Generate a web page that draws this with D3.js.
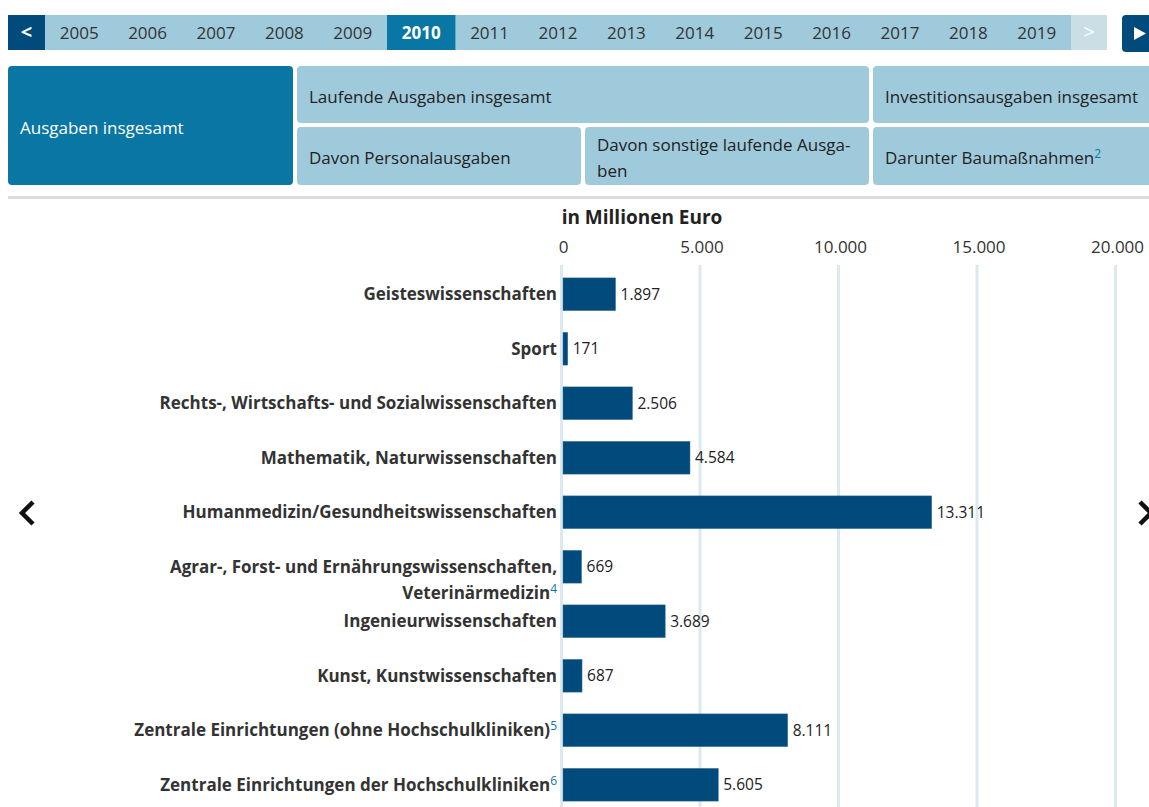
<!DOCTYPE html>
<html>
<head>
<meta charset="utf-8">
<script src="https://cdn.jsdelivr.net/npm/d3@7"></script>
<style>
  body { margin: 0; background: #fff; overflow: hidden; }
  svg { display: block; font-family: "Open Sans", Lato, sans-serif; }
</style>
</head>
<body>
<svg id="chart" width="1149" height="807"></svg>
<script>
// data
var years = ["2005", "2006", "2007", "2008", "2009", "2010", "2011", "2012", "2013", "2014", "2015", "2016", "2017", "2018", "2019"];
var activeYear = "2010";

var categories = [
  ["Geisteswissenschaften"],
  ["Sport"],
  ["Rechts-, Wirtschafts- und Sozialwissenschaften"],
  ["Mathematik, Naturwissenschaften"],
  ["Humanmedizin/Gesundheitswissenschaften"],
  ["Agrar-, Forst- und Ernährungswissenschaften,", "Veterinärmedizin"],
  ["Ingenieurwissenschaften"],
  ["Kunst, Kunstwissenschaften"],
  ["Zentrale Einrichtungen (ohne Hochschulkliniken)"],
  ["Zentrale Einrichtungen der Hochschulkliniken"]
];
var footnotes = ["", "", "", "", "", "4", "", "", "5", "6"];
var values = [1897, 171, 2506, 4584, 13311, 669, 3689, 687, 8111, 5605];
var xTicks = [0, 5000, 10000, 15000, 20000];

var de = d3.formatLocale({ decimal: ",", thousands: ".", grouping: [3], currency: ["", " €"] });
var fmt = de.format(",d");

var dark = "#004b7c", active = "#0a76a4", light = "#9fcadc";
var svg = d3.select("#chart");

// year navigation
var yearBar = svg.append("g");
yearBar.append("rect").attr("x", 8).attr("y", 15).attr("width", 1099).attr("height", 35).attr("fill", light);
yearBar.append("rect").attr("x", 8).attr("y", 15).attr("width", 37).attr("height", 35).attr("fill", dark);
yearBar.append("text").attr("x", 26.5).attr("y", 39).attr("text-anchor", "middle")
  .attr("fill", "#fff").attr("font-size", 20).attr("font-weight", "bold").text("<");
yearBar.append("rect").attr("x", 1071).attr("y", 15).attr("width", 36).attr("height", 35).attr("fill", "#cbdde5");
yearBar.append("text").attr("x", 1089).attr("y", 39).attr("text-anchor", "middle")
  .attr("fill", "#fff").attr("font-size", 20).text(">");

var yearX = d3.scaleBand().domain(years).range([45, 1071]);
yearBar.selectAll("rect.year").data(years.filter(function(d) { return d == activeYear; }))
  .enter().append("rect").attr("class", "year")
  .attr("x", function(d) { return yearX(d); }).attr("y", 15)
  .attr("width", yearX.bandwidth()).attr("height", 35).attr("fill", active);
yearBar.selectAll("text.year").data(years).enter().append("text").attr("class", "year")
  .attr("x", function(d) { return yearX(d) + yearX.bandwidth() / 2; })
  .attr("y", 38.5).attr("text-anchor", "middle").attr("font-size", 17)
  .attr("fill", function(d) { return d == activeYear ? "#fff" : "#333"; })
  .attr("font-weight", function(d) { return d == activeYear ? "bold" : "normal"; })
  .text(function(d) { return d; });

// play button
yearBar.append("rect").attr("x", 1122).attr("y", 15).attr("width", 40).attr("height", 37).attr("rx", 4).attr("fill", dark);
yearBar.append("path").attr("d", "M1134,27 L1146,33.5 L1134,40 Z").attr("fill", "#fff");

// tabs
var tabs = [
  { label: ["Ausgaben insgesamt"], x: 8, y: 66, w: 285, h: 119, on: true },
  { label: ["Laufende Ausgaben insgesamt"], x: 297, y: 66, w: 572, h: 57 },
  { label: ["Investitionsausgaben insgesamt"], x: 873, y: 66, w: 290, h: 57 },
  { label: ["Davon Personalausgaben"], x: 297, y: 127, w: 284, h: 58 },
  { label: ["Davon sonstige laufende Ausga-", "ben"], x: 585, y: 127, w: 284, h: 58 },
  { label: ["Darunter Baumaßnahmen"], x: 873, y: 127, w: 290, h: 58, sup: "2" }
];
var tab = svg.append("g").selectAll("g").data(tabs).enter().append("g");
tab.append("rect")
  .attr("x", function(d) { return d.x; }).attr("y", function(d) { return d.y; })
  .attr("width", function(d) { return d.w; }).attr("height", function(d) { return d.h; })
  .attr("rx", 4).attr("fill", function(d) { return d.on ? active : light; });
var tabText = tab.append("text")
  .attr("font-size", 17)
  .attr("fill", function(d) { return d.on ? "#fff" : "#222"; })
  .attr("y", function(d) { return d.y + d.h / 2 + 8 - (d.label.length - 1) * 13; });
tabText.each(function(d) {
  var t = d3.select(this);
  d.label.forEach(function(line, i) {
    t.append("tspan").attr("x", d.x + 12).attr("dy", i ? 26 : 0).text(line);
  });
  if (d.sup) {
    t.append("tspan").attr("dy", -6).attr("font-size", 12).attr("fill", active).text(d.sup);
  }
});

svg.append("rect").attr("x", 8).attr("y", 196).attr("width", 1141).attr("height", 3).attr("fill", "#dcdcdc");

// bar chart
var x = d3.scaleLinear().domain([0, 20000]).range([563, 1117]);
var y = d3.scaleBand().domain(d3.range(categories.length))
  .range([267, 812]).paddingInner(0.4).paddingOuter(0.2);

svg.append("text").attr("x", 642).attr("y", 224).attr("text-anchor", "middle")
  .attr("font-size", 19).attr("font-weight", "bold").attr("fill", "#222").text("in Millionen Euro");

svg.append("g").selectAll("line").data(xTicks).enter().append("line")
  .attr("x1", function(d) { return x(d) - 1.5; }).attr("x2", function(d) { return x(d) - 1.5; })
  .attr("y1", 265).attr("y2", 807)
  .attr("stroke", "#dce9ee").attr("stroke-width", 3);

var axis = svg.append("g").attr("transform", "translate(0,253)")
  .call(d3.axisTop(x).tickValues(xTicks).tickSize(0).tickPadding(0).tickFormat(fmt));
axis.select(".domain").remove();
axis.selectAll("text").attr("font-size", 17).attr("fill", "#333")
  .attr("font-family", "'Open Sans', Lato, sans-serif");

svg.append("g").selectAll("rect").data(values).enter().append("rect")
  .attr("x", x(0)).attr("y", function(d, i) { return y(i); })
  .attr("width", function(d) { return x(d) - x(0); }).attr("height", y.bandwidth())
  .attr("fill", dark).attr("stroke", "#3a6f95").attr("stroke-width", 0.5);

svg.append("g").selectAll("text").data(values).enter().append("text")
  .attr("x", function(d) { return x(d) + 5; })
  .attr("y", function(d, i) { return y(i) + y.bandwidth() / 2 + 5.5; })
  .attr("font-size", 15.5).attr("fill", "#222").text(function(d) { return fmt(d); });

var labels = svg.append("g").selectAll("text").data(categories).enter().append("text")
  .attr("text-anchor", "end").attr("font-size", 17).attr("font-weight", "bold").attr("fill", "#333")
  .attr("y", function(d, i) { return y(i) + y.bandwidth() / 2 + 6; });
labels.each(function(d, i) {
  var t = d3.select(this);
  d.forEach(function(line, j) {
    t.append("tspan").attr("x", 557).attr("dy", j ? 26 : 0).text(line);
  });
  if (footnotes[i]) {
    t.append("tspan").attr("dy", -6).attr("font-size", 12).attr("font-weight", "normal")
      .attr("fill", active).text(footnotes[i]);
  }
});

// side arrows
svg.append("path").attr("d", "M33,502 L22,513 L33,524").attr("fill", "none")
  .attr("stroke", "#111").attr("stroke-width", 4.5);
svg.append("path").attr("d", "M1140,502 L1151,513 L1140,524").attr("fill", "none")
  .attr("stroke", "#111").attr("stroke-width", 4.5);
</script>
</body>
</html>
